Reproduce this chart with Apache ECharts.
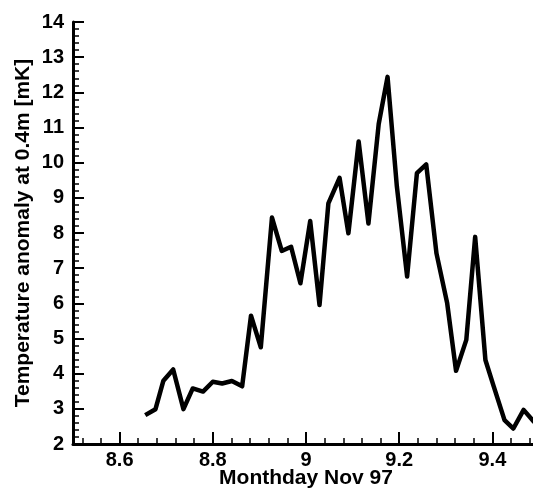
<!DOCTYPE html>
<html><head><meta charset="utf-8">
<script src="https://cdn.jsdelivr.net/npm/echarts@6/dist/echarts.min.js"></script>
<style>html,body{margin:0;padding:0;background:#fff}#c{width:533px;height:489px}</style>
</head><body><div id="c"></div>
<script>
var xValues = [8.655,8.677,8.694,8.715,8.737,8.757,8.779,8.800,8.820,8.841,8.863,8.882,8.903,8.927,8.948,8.968,8.988,9.009,9.029,9.048,9.072,9.091,9.113,9.134,9.156,9.175,9.195,9.217,9.238,9.258,9.280,9.303,9.322,9.344,9.363,9.385,9.403,9.426,9.445,9.467,9.490];
var yValues = [2.82,2.99,3.80,4.12,2.99,3.58,3.49,3.77,3.72,3.79,3.64,5.65,4.75,8.44,7.49,7.61,6.57,8.34,5.95,8.84,9.57,7.99,10.6,8.27,11.1,12.44,9.32,6.76,9.70,9.95,7.42,6.0,4.08,4.96,7.89,4.39,3.63,2.68,2.44,2.97,2.62];
var xMajorTicks = [8.6,8.8,9,9.2,9.4];
var xTickLabels = ['8.6','8.8','9','9.2','9.4'];
var xMinorTicks = [];
for (var k = 0; k <= 25; k++) { var t = Math.round((8.52 + k*0.04)*100)/100; if (t < 9.5) xMinorTicks.push(t); }
var xName = 'Monthday Nov 97';
var yName = 'Temperature anomaly at 0.4m [mK]';

var data = xValues.map(function(x,i){return [x,yValues[i]];});
var font = 'Liberation Sans, Arial, sans-serif';
var chart = echarts.init(document.getElementById('c'));
chart.setOption({
  animation:false,
  title:{text:xName,left:306,top:468,textAlign:'center',padding:0,
    textStyle:{color:'#000',fontSize:21,fontWeight:'bold',fontFamily:font}},
  grid:{left:73,top:22,bottom:45,right:-6,containLabel:false,outerBoundsMode:'none'},
  xAxis:[{type:'value',min:8.5,max:9.5,position:'bottom',
    axisLine:{lineStyle:{color:'#000',width:3}},
    axisTick:{inside:true,length:12,customValues:xMajorTicks,lineStyle:{color:'#000',width:2}},
    splitLine:{show:false},
    axisLabel:{color:'#000',fontSize:20,fontWeight:'bold',fontFamily:font,margin:6,
      customValues:xMajorTicks,
      formatter:function(v){var i=xMajorTicks.indexOf(Math.round(v*10)/10);return i>=0?xTickLabels[i]:'';}}
  },{type:'value',min:8.5,max:9.5,position:'bottom',
    axisLine:{show:false},
    axisTick:{show:true,inside:true,length:6,customValues:xMinorTicks,lineStyle:{color:'#000',width:1.5}},
    axisLabel:{show:false},
    splitLine:{show:false}
  }],
  yAxis:{type:'value',min:2,max:14,interval:1,
    name:yName,nameLocation:'middle',nameGap:39,nameRotate:90,nameMoveOverlap:false,
    nameTextStyle:{color:'#000',fontSize:21,fontWeight:'bold',fontFamily:font},
    axisLine:{show:true,lineStyle:{color:'#000',width:3}},
    axisTick:{show:true,inside:true,length:11,lineStyle:{color:'#000',width:2}},
    minorTick:{show:true,splitNumber:5,length:6,lineStyle:{color:'#000',width:1.5}},
    splitLine:{show:false},
    axisLabel:{color:'#000',fontSize:20,fontWeight:'bold',fontFamily:font,margin:9}
  },
  series:[{type:'line',data:data,xAxisIndex:0,symbol:'none',clip:true,
    lineStyle:{color:'#000',width:4.5,join:'round'}}]
});
</script></body></html>
